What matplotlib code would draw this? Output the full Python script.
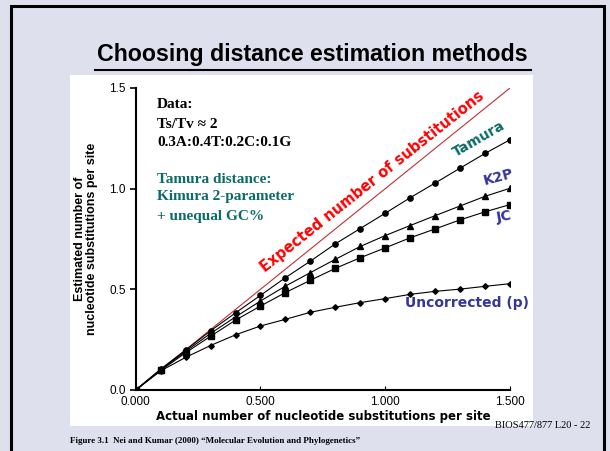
import matplotlib.pyplot as plt
from matplotlib.patches import Rectangle
from matplotlib.lines import Line2D

# values
x_vals = [0.0, 0.1, 0.2, 0.3, 0.4, 0.5, 0.6, 0.7, 0.8, 0.9, 1.0, 1.1, 1.2, 1.3, 1.4, 1.5]
tamura = [0.0, 0.104, 0.198, 0.294, 0.383, 0.470, 0.558, 0.640, 0.726, 0.802, 0.878, 0.955, 1.028, 1.102, 1.175, 1.243]
k2p = [0.0, 0.100, 0.192, 0.281, 0.363, 0.442, 0.516, 0.583, 0.649, 0.713, 0.767, 0.817, 0.866, 0.914, 0.962, 1.002]
jc = [0.0, 0.097, 0.185, 0.267, 0.347, 0.417, 0.484, 0.545, 0.604, 0.657, 0.706, 0.756, 0.800, 0.845, 0.885, 0.921]
uncorrected = [0.0, 0.095, 0.162, 0.221, 0.274, 0.318, 0.351, 0.386, 0.411, 0.434, 0.454, 0.475, 0.490, 0.501, 0.515, 0.528]
expected = [0.0, 1.5]

x_ticks = [0.0, 0.5, 1.0, 1.5]
x_ticklabels = ['0.000', '0.500', '1.000', '1.500']
y_ticks = [0.0, 0.5, 1.0, 1.5]
y_ticklabels = ['0.0', '0.5', '1.0', '1.5']

W, H = 610, 451
BG = '#dfe0ee'
TEAL = '#0b6b66'
BLUE = '#35359a'

def fx(px):
    return px / W

def fy(py):
    return 1 - py / H

fig = plt.figure(figsize=(6.1, 4.51), dpi=100)
fig.patch.set_facecolor(BG)

# slide frame and white chart area
fig.add_artist(Rectangle((fx(11), fy(460)), fx(604) - fx(11), fy(6) - fy(460),
                         transform=fig.transFigure, facecolor='none',
                         edgecolor='black', linewidth=2.2, zorder=0))
fig.add_artist(Rectangle((fx(70), fy(426)), fx(533) - fx(70), fy(75) - fy(426),
                         transform=fig.transFigure, facecolor='white',
                         edgecolor='none', zorder=0))

# title, shrunk to the width it has on the slide
title = fig.text(fx(312), fy(55), 'Choosing distance estimation methods',
                 ha='center', va='center', fontsize=19, fontweight='bold',
                 family=['Liberation Sans'])
renderer = fig.canvas.get_renderer()
w = title.get_window_extent(renderer).width
title.set_fontsize(19 * 432 / w)
fig.add_artist(Line2D([fx(95), fx(531)], [fy(70), fy(70)],
                      transform=fig.transFigure, color='black', linewidth=1.5))

ax = fig.add_axes([fx(135.7), fy(390), fx(510) - fx(135.7), fy(88) - fy(390)])
ax.patch.set_alpha(0)

ax.plot(expected, expected, color='#c03030', linewidth=0.8)
ax.plot(x_vals, tamura, color='black', linewidth=0.8, marker='o', markersize=3.8)
ax.plot(x_vals, k2p, color='black', linewidth=0.8, marker='^', markersize=4.3)
ax.plot(x_vals, jc, color='black', linewidth=0.8, marker='s', markersize=3.7)
ax.plot(x_vals, uncorrected, color='black', linewidth=0.8, marker='D', markersize=2.8)

ax.set_xlim(0, 1.5)
ax.set_ylim(0, 1.5)
ax.spines['top'].set_visible(False)
ax.spines['right'].set_visible(False)
ax.spines['left'].set_linewidth(1.5)
ax.spines['bottom'].set_linewidth(1.5)
ax.set_xticks(x_ticks)
ax.set_xticklabels(x_ticklabels, family='Liberation Sans', fontsize=8.5)
ax.set_yticks(y_ticks)
ax.set_yticklabels(y_ticklabels, family='Liberation Sans', fontsize=8.5)
ax.tick_params(axis='x', direction='in', length=3, pad=4)
ax.tick_params(axis='y', direction='out', length=4, width=1.2, pad=3)

ax.set_xlabel('Actual number of nucleotide substitutions per site',
              fontsize=8.5, fontweight='bold', labelpad=2)
ax.set_ylabel('Estimated number of\nnucleotide substitutions per site',
              fontsize=9, fontweight='bold', family='Liberation Sans',
              labelpad=8, linespacing=1.0)

# annotations
serif = 'Liberation Serif'
fig.text(fx(157), fy(104), 'Data:', fontsize=11, fontweight='bold', family=serif, va='center')
fig.text(fx(157), fy(124), 'Ts/Tv \u2248 2', fontsize=11, fontweight='bold', family=serif, va='center')
fig.text(fx(157), fy(142), '0.3A:0.4T:0.2C:0.1G', fontsize=11, fontweight='bold', family=serif, va='center')
fig.text(fx(157), fy(179), 'Tamura distance:', fontsize=11, fontweight='bold', family=serif, va='center', color=TEAL)
fig.text(fx(157), fy(197), 'Kimura 2-parameter', fontsize=11, fontweight='bold', family=serif, va='center', color=TEAL)
fig.text(fx(157), fy(216), '+ unequal GC%', fontsize=11, fontweight='bold', family=serif, va='center', color=TEAL)

fig.text(fx(372), fy(182), 'Expected number of substitutions', fontsize=10.5,
         fontweight='bold', color='#ff0000', rotation=38.5,
         ha='center', va='center', rotation_mode='anchor')
fig.text(fx(479), fy(139), 'Tamura', fontsize=10, fontweight='bold', color=TEAL,
         rotation=30, ha='center', va='center', rotation_mode='anchor')
fig.text(fx(499), fy(177), 'K2P', fontsize=10, fontweight='bold', color=BLUE,
         rotation=15, ha='center', va='center', rotation_mode='anchor')
fig.text(fx(504), fy(217), 'JC', fontsize=10, fontweight='bold', color=BLUE,
         rotation=10, ha='center', va='center', rotation_mode='anchor')
fig.text(fx(467), fy(303), 'Uncorrected (p)', fontsize=10, fontweight='bold', color=BLUE,
         ha='center', va='center')

# footer
fig.text(fx(70), fy(441), 'Figure 3.1  Nei and Kumar (2000) \u201cMolecular Evolution and Phylogenetics\u201d',
         fontsize=6.5, fontweight='bold', family=serif, va='center')
fig.text(fx(590), fy(425), 'BIOS477/877 L20 - 22', fontsize=7.5, family=serif,
         ha='right', va='center')

fig.savefig('out.png', dpi=100, facecolor=BG)
